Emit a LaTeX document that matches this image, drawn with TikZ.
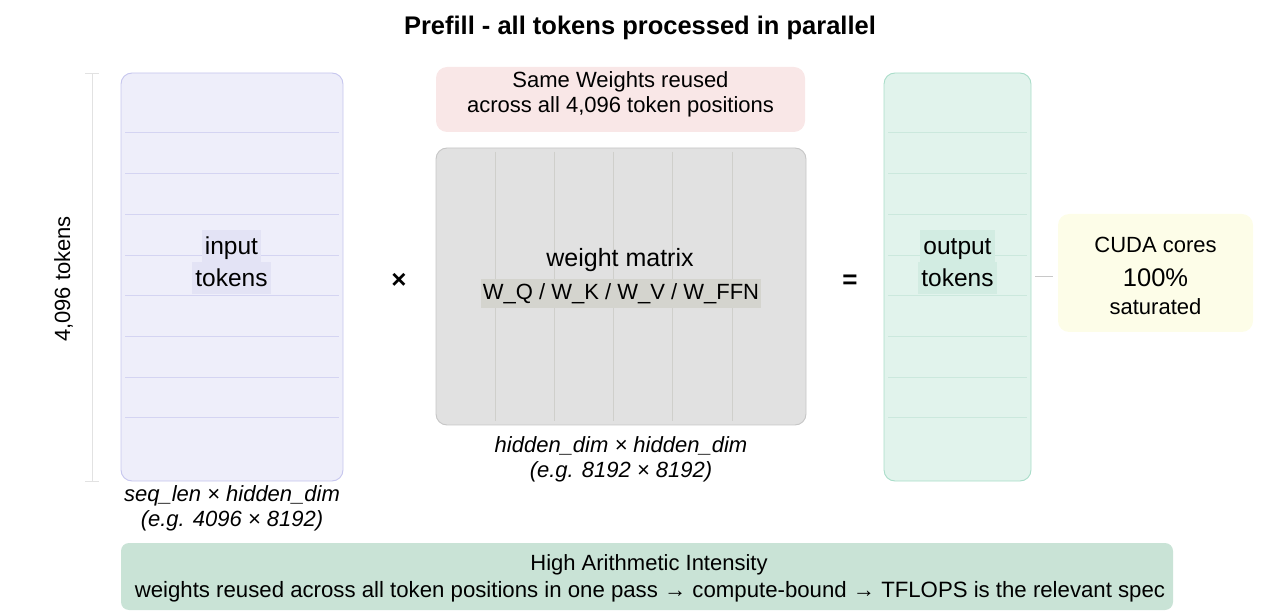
\documentclass[tikz,border=0pt]{standalone}
\usepackage{fontspec}
\setmainfont{Liberation Sans}
\usetikzlibrary{calc}

\definecolor{inFill}{HTML}{EEEEFA}
\definecolor{inEdge}{HTML}{C6C6EE}
\definecolor{inRule}{HTML}{D4D4F2}
\definecolor{inTag}{HTML}{E3E3F5}
\definecolor{wFill}{HTML}{E1E1E1}
\definecolor{wEdge}{HTML}{C6C6C6}
\definecolor{wRule}{HTML}{CFCFCB}
\definecolor{wTag}{HTML}{D4D4CE}
\definecolor{outFill}{HTML}{E1F3EC}
\definecolor{outEdge}{HTML}{A9DDC9}
\definecolor{outRule}{HTML}{CBE8DD}
\definecolor{outTag}{HTML}{D2ECE2}
\definecolor{pinkFill}{HTML}{F9E7E7}
\definecolor{cudaFill}{HTML}{FDFDE8}
\definecolor{bannerFill}{HTML}{C9E3D6}
\definecolor{axisGray}{HTML}{E2E2E2}
\definecolor{linkGray}{HTML}{C8C8C8}

\newcommand{\fsz}[2]{\fontsize{#1}{#2}\selectfont}

\tikzset{
  panel/.style={rectangle, rounded corners=11pt, inner sep=0pt},
  txt/.style={inner sep=0pt, anchor=base, font=\fsz{22}{26}},
  tag/.style={inner xsep=3pt, inner ysep=1pt, text height=24pt, text depth=6pt,
              anchor=base, font=\fsz{24.5}{30}},
  note/.style={inner sep=0pt, anchor=base, font=\fsz{22}{26}\itshape},
  operator/.style={inner sep=0pt, anchor=base, font=\fsz{26}{30}\bfseries},
}

\begin{document}
\begin{tikzpicture}[x=1pt,y=-1pt]
\useasboundingbox (0,0) rectangle (1262,612);

% title
\node[inner sep=0pt, anchor=base, font=\fsz{25.5}{30}\bfseries] (title) at (640,35)
  {Prefill - all tokens processed in parallel};

% sequence-length axis
\coordinate (axT) at (92,74);
\coordinate (axB) at (92,481);
\draw[axisGray, line width=1pt] (axT) -- (axB);
\draw[axisGray, line width=1pt] ($(axT)+(-7,0)$) -- ($(axT)+(7,0)$);
\draw[axisGray, line width=1pt] ($(axB)+(-7,0)$) -- ($(axB)+(7,0)$);
\node[txt, rotate=90] (axlabel) at (70,279) {4,096 tokens};

% input tokens
\node[panel, fill=inFill, draw=inEdge, line width=0.9pt,
      minimum width=222pt, minimum height=408pt] (inbox) at (232,277) {};
\foreach \k in {0,...,7}
  \draw[inRule, line width=1pt] (125,{133+40.7*\k}) -- (339,{133+40.7*\k});
\node[tag, fill=inTag] (in1) at (231.5,255) {input};
\node[tag, fill=inTag] (in2) at (231.5,287) {tokens};
\node[note] (inshape) at (232,501.5) {seq\_len × hidden\_dim};
\node[note] (inex) at (232,526.5) {(e.g. 4096 × 8192)};

\node[operator] (times) at (399,289) {×};

% shared weights
\node[panel, fill=pinkFill, minimum width=369pt, minimum height=65pt] (reuse) at (620.5,99.5) {};
\node[txt] (reuse1) at (620.5,88) {Same Weights reused};
\node[txt] (reuse2) at (620.5,113) {across all 4,096 token positions};

\node[panel, fill=wFill, draw=wEdge, line width=0.9pt,
      minimum width=370pt, minimum height=277pt] (wbox) at (621,286.5) {};
\foreach \k in {0,...,4}
  \draw[wRule, line width=1pt] ({495+59.3*\k},152) -- ({495+59.3*\k},421);
\node[txt, font=\fsz{25}{30}] (wname) at (620,267) {weight matrix};
\node[tag, fill=wTag, font=\fsz{22}{26}, text height=20pt, text depth=7pt, inner xsep=2pt]
  (wlist) at (621,300) {W\_Q / W\_K / W\_V / W\_FFN};
\node[note] (wshape) at (621,453) {hidden\_dim × hidden\_dim};
\node[note] (wex) at (621,478) {(e.g. 8192 × 8192)};

\node[operator] (equals) at (850,288.5) {=};

% output tokens
\node[panel, fill=outFill, draw=outEdge, line width=0.9pt,
      minimum width=147pt, minimum height=408pt] (outbox) at (957.5,277) {};
\foreach \k in {0,...,7}
  \draw[outRule, line width=1pt] (888,{133+40.7*\k}) -- (1027,{133+40.7*\k});
\node[tag, fill=outTag] (out1) at (957.5,255) {output};
\node[tag, fill=outTag] (out2) at (957.5,287) {tokens};

% utilisation
\node[panel, fill=cudaFill, minimum width=195pt, minimum height=118pt] (cuda) at (1155.5,273) {};
\node[txt] (cuda1) at (1155.5,252.5) {CUDA cores};
\node[txt, font=\fsz{25.5}{30}] (cuda2) at (1155.5,286.5) {100\%};
\node[txt] (cuda3) at (1155.5,315) {saturated};
\draw[linkGray, line width=1pt, shorten <=4pt, shorten >=5pt]
  (outbox.east) -- (outbox.east -| cuda.west);

% summary banner
\node[panel, rounded corners=8pt, fill=bannerFill, minimum width=1052pt, minimum height=67pt]
  (banner) at (647,576.5) {};
\node[txt] (ban1) at (649,570) {High Arithmetic Intensity};
\node[txt, font=\fsz{22.2}{26}] (ban2) at (650,597) {weights reused across all token positions in one pass → compute-bound → TFLOPS is the relevant spec};
\end{tikzpicture}
\end{document}
